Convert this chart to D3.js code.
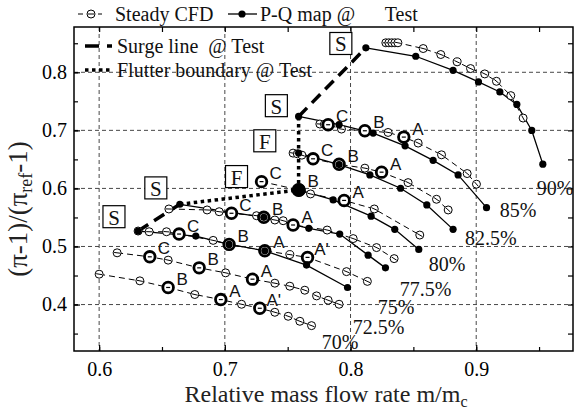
<!DOCTYPE html>
<html><head><meta charset="utf-8">
<script src="https://cdn.jsdelivr.net/npm/d3@7"></script>
<style>body{margin:0;background:#fff;} svg{display:block;}</style>
</head><body><svg id="c" width="576" height="412"></svg>
<script>
// ---------------- DATA ----------------
const xMajor = [0.6, 0.7, 0.8, 0.9];
const xMinor = [0.6, 0.65, 0.7, 0.75, 0.8, 0.85, 0.9, 0.95];
const yMajor = [0.4, 0.5, 0.6, 0.7, 0.8];
const yMinor = [0.35, 0.4, 0.45, 0.5, 0.55, 0.6, 0.65, 0.7, 0.75, 0.8, 0.85];

const speedNames = ["90%", "85%", "82.5%", "80%", "77.5%", "75%", "72.5%", "70%"];
// label anchor (data coords) for each speed line
const speedLabelX = [0.9482, 0.9188, 0.8910, 0.8623, 0.8392, 0.8217, 0.8018, 0.7772];
const speedLabelY = [0.6009, 0.5629, 0.5145, 0.4696, 0.4264, 0.3953, 0.3608, 0.3349];

// P-Q map @ Test (filled, solid)
const test90  = [[0.8122,0.8421],[0.8519,0.8276],[0.8816,0.8034],[0.9018,0.7834],[0.9188,0.7661],[0.9323,0.7447],[0.9442,0.6998],[0.9530,0.6418]];
const test85  = [[0.7587,0.7240],[0.7909,0.7097],[0.8180,0.6953],[0.8434,0.6734],[0.8657,0.6484],[0.8856,0.6233],[0.9082,0.5668]];
const test825 = [[0.7587,0.6608],[0.7909,0.6411],[0.8154,0.6233],[0.8398,0.6003],[0.8607,0.5715],[0.8816,0.5295]];
const test80  = [[0.7587,0.5974],[0.7862,0.5801],[0.8164,0.5522],[0.8352,0.5295],[0.8543,0.4950]];
const test775 = [[0.6642,0.5727],[0.7310,0.5503],[0.7668,0.5313],[0.7914,0.5214],[0.8140,0.4851],[0.8278,0.4632]];
const test75  = [[0.6310,0.5266],[0.6769,0.5180],[0.7034,0.5036],[0.7318,0.4926],[0.7650,0.4679],[0.7976,0.4294]];

// Steady CFD (open, dashed)
const cfd90  = [[0.8281,0.8508],[0.8305,0.8508],[0.8329,0.8508],[0.8353,0.8508],[0.8377,0.8508],[0.8578,0.8409],[0.8718,0.8306],[0.8848,0.8180],[0.8955,0.8064],[0.9068,0.7972],[0.9161,0.7845],[0.9275,0.7598],[0.9373,0.7212]];
const cfd85  = [[0.7756,0.7109],[0.7792,0.7104],[0.7822,0.7097],[0.7928,0.7022],[0.8114,0.6993],[0.8299,0.6964],[0.8424,0.6884],[0.8538,0.6781],[0.8724,0.6579],[0.8928,0.6256],[0.9002,0.6073]];
const cfd825 = [[0.7543,0.6608],[0.7577,0.6596],[0.7613,0.6573],[0.7702,0.6510],[0.7909,0.6415],[0.8114,0.6349],[0.8247,0.6280],[0.8458,0.6100],[0.8684,0.5813],[0.8777,0.5629]];
const cfd80  = [[0.7292,0.6117],[0.7591,0.5974],[0.7682,0.5905],[0.7949,0.5793],[0.8189,0.5646],[0.8551,0.5197]];
const cfd775 = [[0.6555,0.5646],[0.6859,0.5629],[0.6955,0.5599],[0.7053,0.5572],[0.7252,0.5530],[0.7310,0.5503],[0.7398,0.5456],[0.7464,0.5444],[0.7543,0.5370],[0.7814,0.5283],[0.8021,0.5136],[0.8207,0.4981],[0.8347,0.4791]];
const cfd75  = [[0.6310,0.5266],[0.6398,0.5254],[0.6536,0.5254],[0.6636,0.5214],[0.6907,0.5105],[0.7034,0.5036],[0.7318,0.4926],[0.7517,0.4860],[0.7658,0.4812],[0.7968,0.4567],[0.8134,0.4399]];
const cfd725 = [[0.6143,0.4891],[0.6403,0.4822],[0.6549,0.4765],[0.6796,0.4632],[0.7006,0.4546],[0.7220,0.4437],[0.7398,0.4368],[0.7517,0.4316],[0.7636,0.4247],[0.7730,0.4149],[0.7822,0.4074],[0.7909,0.4005]];
const cfd70  = [[0.6000,0.4523],[0.6324,0.4408],[0.6549,0.4294],[0.6761,0.4173],[0.6968,0.4086],[0.7133,0.4005],[0.7278,0.3936],[0.7398,0.3867],[0.7504,0.3798],[0.7597,0.3712],[0.7690,0.3637]];

// Operating points A, B, C, A' (bold rings)
const ringX = [0.7822,0.8114,0.8424, 0.7702,0.7909,0.8247, 0.7292,0.7591,0.7949, 0.7053,0.7310,0.7543, 0.6636,0.7034,0.7318,0.7658, 0.6403,0.6796,0.7220, 0.6549,0.6968,0.7278];
const ringY = [0.7097,0.6993,0.6884, 0.6510,0.6415,0.6280, 0.6117,0.5974,0.5793, 0.5572,0.5503,0.5370, 0.5214,0.5036,0.4926,0.4812, 0.4822,0.4632,0.4437, 0.4294,0.4086,0.3936];
const ringLabel = ["C","B","A", "C","B","A", "C","B","A", "C","B","A", "C","B","A","A'", "C","B","A", "B","A","A'"];

// Surge line and flutter boundary @ Test
const surge1 = [[0.6310,0.5266],[0.6642,0.5727]];
const surge2 = [[0.7587,0.7240],[0.8122,0.8421]];
const flutter = [[0.6642,0.5727],[0.7587,0.5974],[0.7587,0.7240]];
const flutterPoint = [0.7587,0.5974];

// Boxed markers
const boxX = [0.6118, 0.6451, 0.7093, 0.7318, 0.7410, 0.7923];
const boxY = [0.5513, 0.6009, 0.6204, 0.6820, 0.7425, 0.8496];
const boxText = ["S", "S", "F", "F", "S", "S"];

// ---------------- CHART ----------------
const svg = d3.select("#c");
const m = {l:74, r:573, t:27, b:351};
const x = d3.scaleLinear().domain([0.58, 0.977]).range([m.l, m.r]);
const y = d3.scaleLinear().domain([0.32, 0.878]).range([m.b, m.t]);
const serif = "'Liberation Serif','Times New Roman',serif";
const sans = "'Liberation Sans',Arial,sans-serif";

// grid
const grid = svg.append("g").attr("stroke", "#333").attr("stroke-width", 0.9).attr("stroke-dasharray", "4,3");
grid.selectAll(".gx").data(xMajor).join("line")
  .attr("x1", d => x(d)).attr("x2", d => x(d)).attr("y1", m.t).attr("y2", m.b);
grid.selectAll(".gy").data(yMajor).join("line")
  .attr("y1", d => y(d)).attr("y2", d => y(d)).attr("x1", m.l).attr("x2", m.r);

// axes
function styleAxis(s) {
  s.select(".domain").remove();
  s.selectAll("line").attr("stroke", "#000").attr("stroke-width", 1.2);
  s.selectAll("text").attr("font-family", serif).attr("font-size", 20).attr("fill", "#000");
}
const fmt = d3.format(".1f");
svg.append("g").attr("transform", `translate(0,${m.b})`)
  .call(d3.axisBottom(x).tickValues(xMajor).tickSize(-6).tickPadding(11).tickFormat(fmt)).call(styleAxis);
svg.append("g").attr("transform", `translate(0,${m.b})`)
  .call(d3.axisBottom(x).tickValues(xMinor).tickSize(-4).tickFormat("")).call(styleAxis);
svg.append("g").attr("transform", `translate(0,${m.t})`)
  .call(d3.axisTop(x).tickValues(xMinor).tickSize(-5).tickFormat("")).call(styleAxis);
svg.append("g").attr("transform", `translate(${m.l},0)`)
  .call(d3.axisLeft(y).tickValues(yMajor).tickSize(-6).tickPadding(7).tickFormat(fmt)).call(styleAxis);
svg.append("g").attr("transform", `translate(${m.l},0)`)
  .call(d3.axisLeft(y).tickValues(yMinor).tickSize(-4).tickFormat("")).call(styleAxis);
svg.append("g").attr("transform", `translate(${m.r},0)`)
  .call(d3.axisRight(y).tickValues(yMinor).tickSize(-5).tickFormat("")).call(styleAxis);

svg.append("rect").attr("x", m.l).attr("y", m.t).attr("width", m.r - m.l).attr("height", m.b - m.t)
  .attr("fill", "none").attr("stroke", "#000").attr("stroke-width", 1.5);

// axis titles
const xt = svg.append("text").attr("x", 326).attr("y", 402).attr("text-anchor", "middle")
  .attr("font-family", serif).attr("font-size", 24).attr("fill", "#222");
xt.append("tspan").text("Relative mass flow rate m/m");
xt.append("tspan").attr("font-size", 16).attr("dy", 5).text("c");

const yt = svg.append("text").attr("transform", "translate(27,209) rotate(-90)").attr("text-anchor", "middle")
  .attr("font-family", serif).attr("font-size", 27).attr("fill", "#222");
yt.append("tspan").text("(\u03c0-1)/(\u03c0");
yt.append("tspan").attr("font-size", 18).attr("dy", 5).text("ref");
yt.append("tspan").attr("dy", -5).text("-1)");

// lines
const line = d3.line().x(d => x(d[0])).y(d => y(d[1]));
const cfdAll = [cfd90, cfd85, cfd825, cfd80, cfd775, cfd75, cfd725, cfd70];
const testAll = [test90, test85, test825, test80, test775, test75];

const plot = svg.append("g");
plot.selectAll(".cfdl").data(cfdAll).join("path").attr("d", line)
  .attr("fill", "none").attr("stroke", "#000").attr("stroke-width", 1).attr("stroke-dasharray", "6,4");
plot.selectAll(".testl").data(testAll).join("path").attr("d", line)
  .attr("fill", "none").attr("stroke", "#000").attr("stroke-width", 1.3);

// surge + flutter
plot.selectAll(".surge").data([surge1, surge2]).join("path").attr("d", line)
  .attr("fill", "none").attr("stroke", "#000").attr("stroke-width", 3.5).attr("stroke-dasharray", "12,7");
plot.append("path").datum(flutter).attr("d", line)
  .attr("fill", "none").attr("stroke", "#000").attr("stroke-width", 3.5).attr("stroke-dasharray", "3.5,3.5");

// open CFD circles with a bar following the line
function barAngle(arr, i) {
  const a = arr[Math.max(0, i - 1)], b = arr[Math.min(arr.length - 1, i + 1)];
  return Math.atan2(y(b[1]) - y(a[1]), x(b[0]) - x(a[0]));
}
cfdAll.forEach(arr => {
  arr.forEach((d, i) => {
    const cx = x(d[0]), cy = y(d[1]), r = 4, ang = barAngle(arr, i);
    plot.append("circle").attr("cx", cx).attr("cy", cy).attr("r", r)
      .attr("fill", "#fff").attr("stroke", "#000").attr("stroke-width", 1);
    plot.append("line").attr("x1", cx - (r - 1) * Math.cos(ang)).attr("y1", cy - (r - 1) * Math.sin(ang))
      .attr("x2", cx + (r - 1) * Math.cos(ang)).attr("y2", cy + (r - 1) * Math.sin(ang))
      .attr("stroke", "#000").attr("stroke-width", 1);
  });
});

// rings
const rings = ringX.map((v, i) => ({x: v, y: ringY[i], label: ringLabel[i]}));
plot.selectAll(".ring").data(rings).join("circle")
  .attr("cx", d => x(d.x)).attr("cy", d => y(d.y)).attr("r", 5.3)
  .attr("fill", "#fff").attr("stroke", "#000").attr("stroke-width", 2.8);
plot.selectAll(".ringbar").data(rings).join("line")
  .attr("x1", d => x(d.x) - 2).attr("x2", d => x(d.x) + 2)
  .attr("y1", d => y(d.y)).attr("y2", d => y(d.y)).attr("stroke", "#000").attr("stroke-width", 1.2);

// filled test points
testAll.forEach(arr => {
  plot.selectAll(null).data(arr).join("circle")
    .attr("cx", d => x(d[0])).attr("cy", d => y(d[1])).attr("r", 3.6).attr("fill", "#000");
});
plot.append("circle").attr("cx", x(flutterPoint[0])).attr("cy", y(flutterPoint[1])).attr("r", 7).attr("fill", "#000");

// ring letters
plot.selectAll(".rl").data(rings).join("text")
  .attr("x", d => x(d.x) + 14).attr("y", d => y(d.y) - 8)
  .attr("text-anchor", "middle").attr("dominant-baseline", "central")
  .attr("font-family", sans).attr("font-size", 17).attr("fill", "#111").text(d => d.label);

// speed labels
plot.selectAll(".sl").data(speedNames).join("text")
  .attr("x", (d, i) => x(speedLabelX[i])).attr("y", (d, i) => y(speedLabelY[i]))
  .attr("dominant-baseline", "central")
  .attr("font-family", serif).attr("font-size", 20).attr("fill", "#111").text(d => d);

// boxed S / F
const boxes = boxText.map((t, i) => ({t, x: boxX[i], y: boxY[i]}));
const bg = plot.selectAll(".bx").data(boxes).join("g")
  .attr("transform", d => `translate(${x(d.x)},${y(d.y)})`);
bg.append("rect").attr("x", -11).attr("y", -11).attr("width", 22).attr("height", 22)
  .attr("fill", "#fff").attr("stroke", "#000").attr("stroke-width", 1.2);
bg.append("text").attr("text-anchor", "middle").attr("dominant-baseline", "central").attr("y", 1)
  .attr("font-family", serif).attr("font-size", 21).attr("fill", "#111").text(d => d.t);

// legend
const lg = svg.append("g").attr("font-family", serif).attr("font-size", 20).attr("fill", "#111");
// Steady CFD
lg.append("line").attr("x1", 78).attr("x2", 102).attr("y1", 14).attr("y2", 14)
  .attr("stroke", "#000").attr("stroke-width", 1).attr("stroke-dasharray", "5,5");
lg.append("circle").attr("cx", 91).attr("cy", 14).attr("r", 4).attr("fill", "#fff").attr("stroke", "#000");
lg.append("line").attr("x1", 88).attr("x2", 94).attr("y1", 14).attr("y2", 14).attr("stroke", "#000");
lg.append("text").attr("x", 115).attr("y", 21).text("Steady CFD");
// P-Q map
lg.append("line").attr("x1", 228).attr("x2", 257).attr("y1", 14).attr("y2", 14).attr("stroke", "#000").attr("stroke-width", 1.3);
lg.append("circle").attr("cx", 242).attr("cy", 14).attr("r", 3.6).attr("fill", "#000");
lg.append("text").attr("x", 260).attr("y", 21).attr("xml:space", "preserve").text("P-Q map @      Test");
// Surge line
lg.append("line").attr("x1", 85).attr("x2", 112).attr("y1", 46).attr("y2", 46)
  .attr("stroke", "#000").attr("stroke-width", 3.5).attr("stroke-dasharray", "14,8");
lg.append("text").attr("x", 117).attr("y", 53).attr("xml:space", "preserve").text("Surge line  @ Test");
// Flutter
lg.append("line").attr("x1", 85).attr("x2", 113).attr("y1", 70).attr("y2", 70)
  .attr("stroke", "#000").attr("stroke-width", 3.5).attr("stroke-dasharray", "3.5,3.5");
lg.append("text").attr("x", 117).attr("y", 77).text("Flutter boundary @ Test");
</script></body></html>
